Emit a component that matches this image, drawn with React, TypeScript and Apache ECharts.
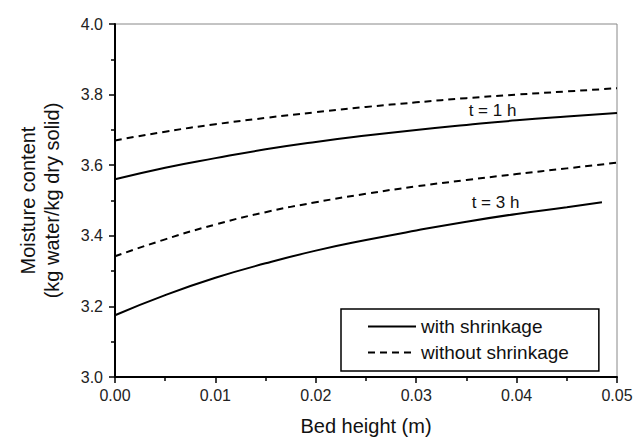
import React, { useEffect, useRef } from "react";
import * as echarts from "echarts";

const bedHeight = [0, 0.005, 0.01, 0.015, 0.02, 0.025, 0.03, 0.035, 0.04, 0.045, 0.05];
const bedHeight3hWith = [0, 0.005, 0.01, 0.015, 0.02, 0.025, 0.03, 0.035, 0.04, 0.045, 0.0485];

const with1h = [3.560, 3.593, 3.620, 3.645, 3.666, 3.684, 3.700, 3.714, 3.727, 3.738, 3.748];
const without1h = [3.670, 3.695, 3.716, 3.734, 3.750, 3.765, 3.778, 3.790, 3.800, 3.809, 3.818];
const with3h = [3.175, 3.232, 3.281, 3.322, 3.358, 3.388, 3.415, 3.440, 3.462, 3.481, 3.495];
const without3h = [3.342, 3.390, 3.432, 3.467, 3.495, 3.519, 3.540, 3.558, 3.575, 3.591, 3.607];

const annotations = [
  { text: "t = 1 h", x: 0.0376, y: 3.756 },
  { text: "t = 3 h", x: 0.0379, y: 3.493 },
];

const FONT = "Liberation Sans, Arial, sans-serif";

function pairs(xs: number[], ys: number[]) {
  return ys.map((v, i) => [xs[i], v]);
}

export default function App() {
  const ref = useRef<HTMLDivElement>(null);
  useEffect(() => {
    if (!ref.current) return;
    const chart = echarts.init(ref.current, undefined, { renderer: "svg" });
    const solid = { color: "#000", width: 2, type: "solid" as const };
    const dashed = { color: "#000", width: 2, type: [7, 5] as any };
    const annoLabel = {
      show: true,
      position: "inside",
      fontFamily: FONT,
      fontSize: 17,
      color: "#111",
      formatter: (p: any) => p.name,
    };
    chart.setOption({
      animation: false,
      backgroundColor: "#fff",
      textStyle: { fontFamily: FONT },
      grid: {
        left: 115,
        right: 19,
        top: 24,
        bottom: 60,
        show: true,
        borderColor: "#888",
        borderWidth: 1,
        backgroundColor: "transparent",
      },
      legend: {
        orient: "vertical",
        left: 341,
        top: 309,
        padding: [8, 30, 9, 26],
        itemGap: 7,
        itemWidth: 48,
        itemHeight: 19,
        borderColor: "#000",
        borderWidth: 1.5,
        borderRadius: 0,
        backgroundColor: "#fff",
        itemStyle: { opacity: 0 },
        textStyle: { fontFamily: FONT, fontSize: 19, lineHeight: 19, color: "#111" },
        data: ["with shrinkage", "without shrinkage"],
      },
      xAxis: {
        type: "value",
        min: 0,
        max: 0.05,
        interval: 0.01,
        name: "Bed height (m)",
        nameLocation: "middle",
        nameGap: 39,
        nameTextStyle: { fontFamily: FONT, fontSize: 20, color: "#111" },
        axisLine: { show: true, lineStyle: { color: "#000", width: 2 } },
        axisTick: { show: true, inside: false, length: 6, lineStyle: { color: "#000", width: 1.5 } },
        minorTick: { show: true, splitNumber: 2, length: 4, lineStyle: { color: "#000", width: 1.5 } },
        splitLine: { show: false },
        axisLabel: {
          margin: 10,
          fontFamily: FONT,
          fontSize: 16,
          color: "#222",
          formatter: (v: number) => v.toFixed(2),
        },
      },
      yAxis: {
        type: "value",
        min: 3.0,
        max: 4.0,
        interval: 0.2,
        name: "Moisture content\n(kg water/kg dry solid)",
        nameLocation: "middle",
        nameRotate: 90,
        nameGap: 51,
        nameTextStyle: { fontFamily: FONT, fontSize: 20, color: "#111", lineHeight: 24 },
        axisLine: { show: true, lineStyle: { color: "#000", width: 2 } },
        axisTick: { show: true, inside: false, length: 6, lineStyle: { color: "#000", width: 1.5 } },
        minorTick: { show: true, splitNumber: 2, length: 4, lineStyle: { color: "#000", width: 1.5 } },
        splitLine: { show: false },
        axisLabel: {
          margin: 12,
          fontFamily: FONT,
          fontSize: 16,
          color: "#222",
          formatter: (v: number) => v.toFixed(1),
        },
      },
      series: [
        {
          name: "with shrinkage",
          type: "line",
          data: pairs(bedHeight, with1h),
          smooth: true,
          symbol: "none",
          showSymbol: false,
          lineStyle: solid,
          itemStyle: { color: "#000" },
          markPoint: {
            symbol: "circle",
            symbolSize: 0,
            label: annoLabel,
            data: [{ name: annotations[0].text, coord: [annotations[0].x, annotations[0].y] }],
          },
        },
        {
          name: "without shrinkage",
          type: "line",
          data: pairs(bedHeight, without1h),
          smooth: true,
          symbol: "none",
          showSymbol: false,
          lineStyle: dashed,
          itemStyle: { color: "#000" },
        },
        {
          name: "with shrinkage",
          type: "line",
          data: pairs(bedHeight3hWith, with3h),
          smooth: true,
          symbol: "none",
          showSymbol: false,
          lineStyle: solid,
          itemStyle: { color: "#000" },
          markPoint: {
            symbol: "circle",
            symbolSize: 0,
            label: annoLabel,
            data: [{ name: annotations[1].text, coord: [annotations[1].x, annotations[1].y] }],
          },
        },
        {
          name: "without shrinkage",
          type: "line",
          data: pairs(bedHeight, without3h),
          smooth: true,
          symbol: "none",
          showSymbol: false,
          lineStyle: dashed,
          itemStyle: { color: "#000" },
        },
      ],
    });
    return () => chart.dispose();
  }, []);
  return (
    <div
      ref={ref}
      style={{ position: "absolute", left: 0, top: 0, width: 636, height: 441, background: "#fff" }}
    />
  );
}
